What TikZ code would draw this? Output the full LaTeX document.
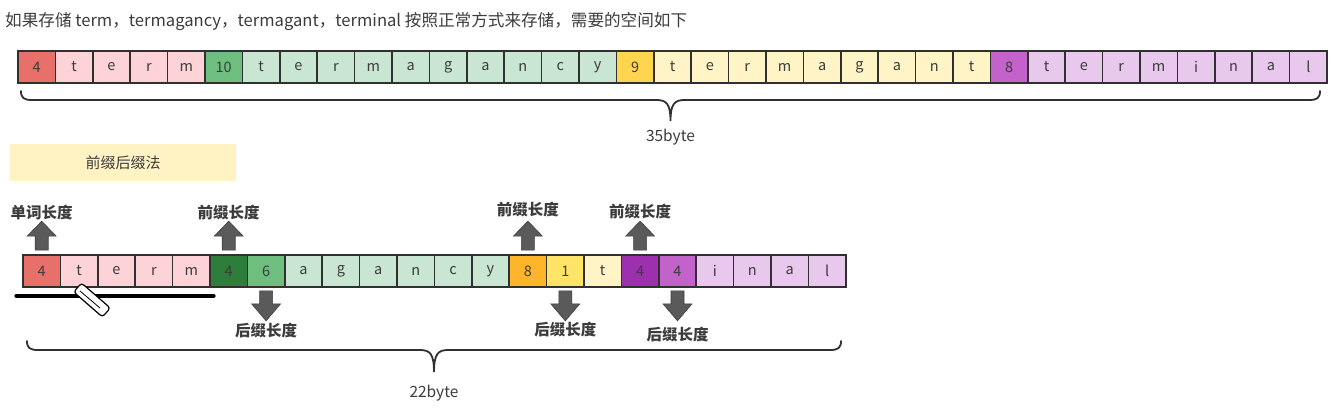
\documentclass[tikz,border=0pt]{standalone}
\usepackage{fontspec}
\setmainfont{Noto Sans CJK SC}
\usetikzlibrary{calc,positioning}
\definecolor{redA}{HTML}{E8706A}
\definecolor{pinkL}{HTML}{FDD3D7}
\definecolor{greenA}{HTML}{6DBE7F}
\definecolor{greenD}{HTML}{2E7D3A}
\definecolor{greenL}{HTML}{C8E6D1}
\definecolor{yellowA}{HTML}{FFD54F}
\definecolor{yellowM}{HTML}{FFE468}
\definecolor{yellowL}{HTML}{FFF4C6}
\definecolor{orangeA}{HTML}{FFB52A}
\definecolor{purpleA}{HTML}{C262CA}
\definecolor{purpleD}{HTML}{9C30AF}
\definecolor{purpleL}{HTML}{E8C8EC}
\definecolor{boxyellow}{HTML}{FFF3C4}
\definecolor{blockgray}{HTML}{5A5A5A}
\definecolor{inktext}{HTML}{3C3C3C}
\tikzset{
  cell/.style={draw=inktext!80!black, line width=1.7pt, minimum width=37.4pt, minimum height=32pt,
    inner sep=0pt, text=inktext, font=\fontsize{14.5}{14.5}\selectfont},
  lbl/.style={inner sep=1pt, text=inktext, font=\fontsize{15.5}{15.5}\selectfont\bfseries},
  brace/.style={draw=inktext!80!black, line width=1.8pt, line cap=round},
}
\newcommand{\topcell}[3]{\node[cell, fill=#2] (t#1) at ({18+37.4*(#1+0.5)}, 67) {#3};}
\newcommand{\botcell}[3]{\node[cell, fill=#2] (b#1) at ({23+37.4*(#1+0.5)}, 271) {#3};}
\newcommand{\upblock}[2]{%
  \filldraw[fill=blockgray, draw=blockgray!70!black, line width=0.6pt, shift={(#1.north)}]
    (-6.5,-4) -- (-6.5,-18) -- (-14.5,-18) -- (0,-33) -- (14.5,-18) -- (6.5,-18) -- (6.5,-4) -- cycle;
  \coordinate (#2) at ($(#1.north)+(0,-33)$);}
\newcommand{\downblock}[2]{%
  \filldraw[fill=blockgray, draw=blockgray!70!black, line width=0.6pt, shift={(#1.south)}]
    (-6.5,3) -- (-6.5,16) -- (-14.5,16) -- (0,33) -- (14.5,16) -- (6.5,16) -- (6.5,3) -- cycle;
  \coordinate (#2) at ($(#1.south)+(0,33)$);}
\newcommand{\bytebrace}[4]{% left x, right x, line y, tip y
  \pgfmathsetmacro\bmid{(#1+#2)/2}
  \draw[brace] (#1,#3-9) .. controls (#1,#3-2) and (#1+3,#3) .. (#1+11,#3) -- (\bmid-14,#3)
    .. controls (\bmid-4,#3) and (\bmid,#3+4) .. (\bmid,#4)
    .. controls (\bmid,#3+4) and (\bmid+4,#3) .. (\bmid+14,#3) -- (#2-11,#3)
    .. controls (#2-3,#3) and (#2,#3-2) .. (#2,#3-9);}

\begin{document}
\begin{tikzpicture}[x=1pt, y=-1pt]
  %%%%% START %%%%%
  \useasboundingbox (0,0) rectangle (1342,410);
  \fill[white] (0,0) rectangle (1342,410);

  \node[anchor=west, inner sep=0pt, text=inktext, font=\fontsize{16.6}{16.6}\selectfont] (intro) at (5,22)
    {如果存储 term，termagancy，termagant，terminal 按照正常方式来存储，需要的空间如下};

  % normal storage
  \topcell{0}{redA}{4}
  \topcell{1}{pinkL}{t}
  \topcell{2}{pinkL}{e}
  \topcell{3}{pinkL}{r}
  \topcell{4}{pinkL}{m}
  \topcell{5}{greenA}{10}
  \topcell{6}{greenL}{t}
  \topcell{7}{greenL}{e}
  \topcell{8}{greenL}{r}
  \topcell{9}{greenL}{m}
  \topcell{10}{greenL}{a}
  \topcell{11}{greenL}{g}
  \topcell{12}{greenL}{a}
  \topcell{13}{greenL}{n}
  \topcell{14}{greenL}{c}
  \topcell{15}{greenL}{y}
  \topcell{16}{yellowA}{9}
  \topcell{17}{yellowL}{t}
  \topcell{18}{yellowL}{e}
  \topcell{19}{yellowL}{r}
  \topcell{20}{yellowL}{m}
  \topcell{21}{yellowL}{a}
  \topcell{22}{yellowL}{g}
  \topcell{23}{yellowL}{a}
  \topcell{24}{yellowL}{n}
  \topcell{25}{yellowL}{t}
  \topcell{26}{purpleA}{8}
  \topcell{27}{purpleL}{t}
  \topcell{28}{purpleL}{e}
  \topcell{29}{purpleL}{r}
  \topcell{30}{purpleL}{m}
  \topcell{31}{purpleL}{i}
  \topcell{32}{purpleL}{n}
  \topcell{33}{purpleL}{a}
  \topcell{34}{purpleL}{l}

  \bytebrace{21}{1320}{100}{121}
  \node[text=inktext, font=\fontsize{15.5}{15.5}\selectfont] (total1) at (670.5,137) {35byte};

  \node[fill=boxyellow, minimum width=226pt, minimum height=37pt, inner sep=0pt, text=inktext,
    font=\fontsize{15}{15}\selectfont] (method) at (123,162.5) {前缀后缀法};

  % prefix / suffix storage
  \botcell{0}{redA}{4}
  \botcell{1}{pinkL}{t}
  \botcell{2}{pinkL}{e}
  \botcell{3}{pinkL}{r}
  \botcell{4}{pinkL}{m}
  \botcell{5}{greenD}{4}
  \botcell{6}{greenA}{6}
  \botcell{7}{greenL}{a}
  \botcell{8}{greenL}{g}
  \botcell{9}{greenL}{a}
  \botcell{10}{greenL}{n}
  \botcell{11}{greenL}{c}
  \botcell{12}{greenL}{y}
  \botcell{13}{orangeA}{8}
  \botcell{14}{yellowM}{1}
  \botcell{15}{yellowL}{t}
  \botcell{16}{purpleD}{4}
  \botcell{17}{purpleA}{4}
  \botcell{18}{purpleL}{i}
  \botcell{19}{purpleL}{n}
  \botcell{20}{purpleL}{a}
  \botcell{21}{purpleL}{l}

  \upblock{b0}{u0}
  \node[lbl, above=0pt of u0] (len0) {单词长度};
  \upblock{b5}{u5}
  \node[lbl, above=0pt of u5] (pre5) {前缀长度};
  \upblock{b13}{u13}
  \node[lbl, above=3pt of u13] (pre13) {前缀长度};
  \upblock{b16}{u16}
  \node[lbl, above=1pt of u16] (pre16) {前缀长度};

  \downblock{b6}{d6}
  \node[lbl, below=1pt of d6] (suf6) {后缀长度};
  \downblock{b14}{d14}
  \node[lbl, below=0pt of d14] (suf14) {后缀长度};
  \downblock{b17}{d17}
  \node[lbl, below=3pt of d17, yshift=-2pt] (suf17) {后缀长度};

  % pen mark
  \draw[line width=3.5pt, line cap=round] ($(b0.south west)+(-6,8)$) -- ($(b4.south east)+(3,8)$);
  \draw[line width=1.2pt, fill=white, rounded corners=3pt] (81.5,283) -- (73.7,292) -- (102.5,317) -- (110.3,308) -- cycle;
  \draw[line width=0.8pt] (80,291) -- (100,308);

  \bytebrace{27}{841}{350}{372}
  \node[text=inktext, font=\fontsize{15.5}{15.5}\selectfont] (total2) at (434,393) {22byte};
  %%%%% END %%%%%
\end{tikzpicture}
\end{document}
